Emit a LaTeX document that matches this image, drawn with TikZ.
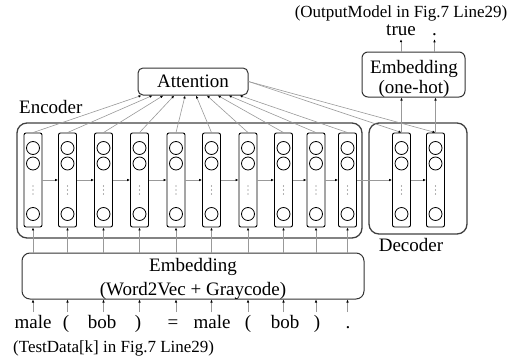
\documentclass[tikz,border=0pt]{standalone}
\usepackage{fontspec}
\setmainfont{Liberation Serif}
\usetikzlibrary{arrows.meta,calc}

% one recurrent cell: a tall box holding three units and a vertical ellipsis
\newcommand\netcol[2]{%
  \node[column] (#1) at (#2,180) {};
  \node[unit] (#1u1) at (#2,148) {};
  \node[unit] (#1u2) at (#2,163.5) {};
  \node[unit] (#1u3) at (#2,214) {};
  \foreach \yy in {186,190,194} \fill[black!60] (#2,\yy) circle (0.6pt);
}

\begin{document}
\begin{tikzpicture}[x=1pt,y=-1pt,
  lbl/.style={font=\fontsize{19}{22}\selectfont, inner sep=0pt},
  captext/.style={font=\fontsize{17}{20}\selectfont, inner sep=0pt},
  group/.style={draw=black!75, line width=1.3pt, rounded corners=10pt, inner sep=0pt},
  block/.style={draw=black!80, line width=1pt, rounded corners=6pt, inner sep=0pt},
  column/.style={draw=black, line width=0.9pt, rounded corners=2pt,
    minimum width=18pt, minimum height=94pt, inner sep=0pt},
  unit/.style={circle, draw=black, line width=0.8pt, minimum size=13pt, inner sep=0pt},
  link/.style={draw=black!40, line width=0.6pt,
    -{Latex[length=3pt,width=2.6pt,color=black]}},
  ]
\useasboundingbox (0,0) rectangle (521,361);

% encoder / decoder frames
\node[group, minimum width=345pt, minimum height=115pt] (enc) at (189.5,180.5) {};
\node[group, minimum width=98pt, minimum height=111pt] (dec) at (418,178.5) {};
\node[lbl, anchor=base west] (enclbl) at (19,113) {Encoder};
\node[lbl, anchor=base] (declbl) at (411,251) {Decoder};

% recurrent cells
\netcol{c1}{33}
\netcol{c2}{67.5}
\netcol{c3}{103.5}
\netcol{c4}{139.5}
\netcol{c5}{176}
\netcol{c6}{211.5}
\netcol{c7}{248}
\netcol{c8}{283.5}
\netcol{c9}{316}
\netcol{c10}{347.5}
\netcol{d1}{401.5}
\netcol{d2}{435.5}

% recurrence
\foreach \a/\b in {c1/c2,c2/c3,c3/c4,c4/c5,c5/c6,c6/c7,c7/c8,c8/c9,c9/c10,c10/d1,d1/d2}
  \draw[link] (\a) -- (\b);

% attention
\node[block, rounded corners=5pt, minimum width=110pt, minimum height=27pt,
  font=\fontsize{19}{22}\selectfont] (att) at (193,81.5) {Attention};
\foreach \i in {1,...,10}
  \draw[link] (c\i.north) -- ($(att.south west)+({4+(\i-1)*10.9},0)$);
\draw[link] (att.east) -- (d1.north);
\draw[link] (att.east) -- (d2.north);

% output embedding
\node[block, minimum width=103pt, minimum height=45pt] (oh) at (413.5,74.5) {};
\node[lbl, anchor=base] (ohl1) at (414,73) {Embedding};
\node[lbl, anchor=base] (ohl2) at (414,93) {(one-hot)};
\draw[link] (d1.north) -- (d1.north |- oh.south);
\draw[link] (d2.north) -- (d2.north |- oh.south);

\node[lbl, anchor=base, outer sep=3pt] (o1) at (401,36) {true};
\node[lbl, anchor=base, outer sep=3pt] (o2) at (434.5,36) {.};
\draw[link] (o1.south |- oh.north) -- (o1.south);
\draw[link] (o2.south |- oh.north) -- (o2.south);
\node[captext] (outcap) at (401,13) {(OutputModel in Fig.7 Line29)};

% input embedding
\node[block, rounded corners=8pt, minimum width=342pt, minimum height=46pt] (emb) at (193,276) {};
\node[lbl, anchor=base] (embl1) at (193,271) {Embedding};
\node[lbl, anchor=base] (embl2) at (193,295) {(Word2Vec + Graycode)};
\foreach \i in {1,...,10}
  \draw[link] (c\i.south |- emb.north) -- (c\i.south);

% input tokens
\foreach \i/\x/\w in {1/33/male,2/66/(,3/102/bob,4/138/),5/173/=,6/212/male,7/248/(,8/285/bob,9/317/),10/348/.} {
  \node[lbl, anchor=base] (w\i) at (\x,328) {\w};
}
\foreach \i/\x in {1/33,2/67.5,3/103.5,4/139.5,5/176,6/211.5,7/248,8/283.5,9/316,10/347.5} {
  \coordinate (in\i) at (\x,312);
  \draw[link] (in\i) -- (in\i |- emb.south);
}
\node[captext, anchor=base west] (incap) at (13,352) {(TestData[k] in Fig.7 Line29)};
\end{tikzpicture}
\end{document}
